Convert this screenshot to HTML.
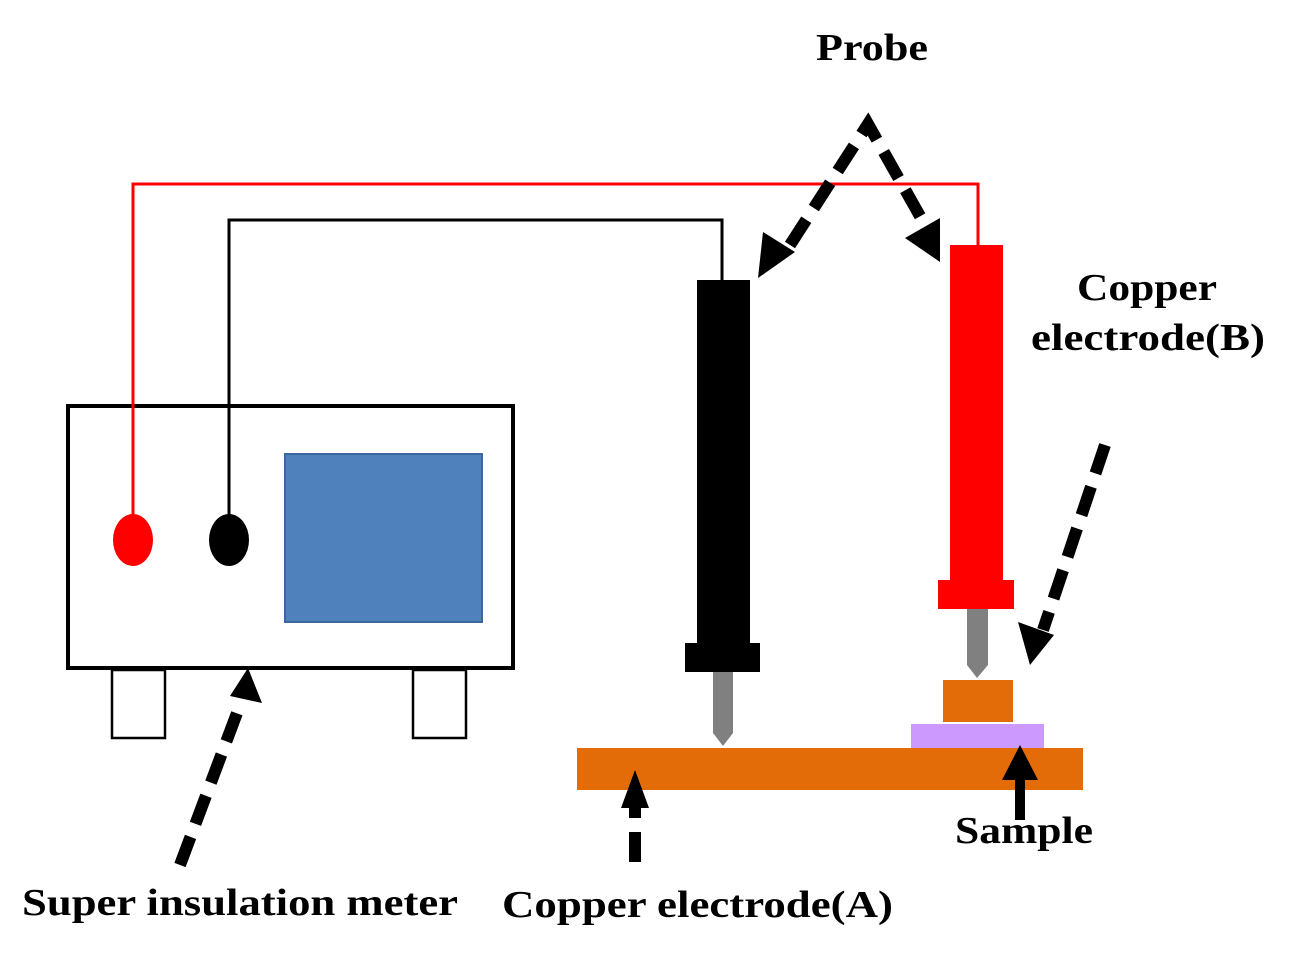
<!DOCTYPE html>
<html><head><style>html,body{margin:0;padding:0;background:#fff}svg{display:block}</style></head>
<body>
<svg width="1291" height="961" viewBox="0 0 1291 961" xmlns="http://www.w3.org/2000/svg">
<!-- meter -->
<rect x="68" y="406" width="445" height="262" fill="#fff" stroke="#000" stroke-width="4"/>
<rect x="285" y="454" width="197" height="168" fill="#4f81bd" stroke="#3a679c" stroke-width="2"/>
<!-- wires -->
<polyline points="133,530 133,184 978,184 978,248" fill="none" stroke="#ff0000" stroke-width="3"/>
<polyline points="229,530 229,220 722,220 722,282" fill="none" stroke="#000" stroke-width="3"/>
<ellipse cx="133" cy="540" rx="20" ry="26" fill="#ff0000"/>
<ellipse cx="229" cy="540" rx="20" ry="26" fill="#000"/>
<rect x="112" y="670" width="53" height="68" fill="#fff" stroke="#000" stroke-width="2.5"/>
<rect x="413" y="670" width="53" height="68" fill="#fff" stroke="#000" stroke-width="2.5"/>
<!-- base -->
<rect x="577" y="748" width="506" height="42" fill="#e36c09"/>
<rect x="911" y="724" width="133" height="24" fill="#cc99ff"/>
<rect x="943" y="680" width="70" height="42" fill="#e36c09"/>
<!-- black probe -->
<rect x="697" y="280" width="53" height="366" fill="#000"/>
<rect x="685" y="643" width="75" height="29" fill="#000"/>
<polygon points="713,672 733,672 733,733 723,746 713,733" fill="#808080"/>
<!-- red probe -->
<rect x="950" y="245" width="53" height="337" fill="#ff0000"/>
<rect x="938" y="580" width="76" height="29" fill="#ff0000"/>
<polygon points="967,609 988,609 988,665 977,678 967,665" fill="#808080"/>
<!-- arrows -->
<g stroke="#000" stroke-width="12" fill="none" stroke-dasharray="30,14">
<polyline points="790,245 868,124 925,225"/>
<line x1="180" y1="865" x2="240" y2="705"/>
<line x1="635" y1="862" x2="635" y2="806"/>
<line x1="1105" y1="445" x2="1043" y2="630"/>
</g>
<line x1="1020" y1="820" x2="1020" y2="780" stroke="#000" stroke-width="10"/>
<g fill="#000">
<polygon points="758,278 763,232 795,252"/>
<polygon points="940,262 905,238 940,218"/>
<polygon points="248,668 262,703 230,696"/>
<polygon points="635,770 649,808 621,808"/>
<polygon points="1020,745 1038,780 1002,780"/>
<polygon points="1030,665 1018,622 1054,635"/>
</g>
<!-- text -->
<g font-family="'Liberation Serif', serif" font-weight="bold" font-size="38" fill="#000">
<text x="816" y="60" textLength="112" lengthAdjust="spacingAndGlyphs">Probe</text>
<text x="1077" y="300" textLength="140" lengthAdjust="spacingAndGlyphs">Copper</text>
<text x="1031" y="350" textLength="234" lengthAdjust="spacingAndGlyphs">electrode(B)</text>
<text x="955" y="843" textLength="138" lengthAdjust="spacingAndGlyphs">Sample</text>
<text x="22" y="915" textLength="436" lengthAdjust="spacingAndGlyphs">Super insulation meter</text>
<text x="502" y="917" textLength="391" lengthAdjust="spacingAndGlyphs">Copper electrode(A)</text>
</g>
</svg>
</body></html>
